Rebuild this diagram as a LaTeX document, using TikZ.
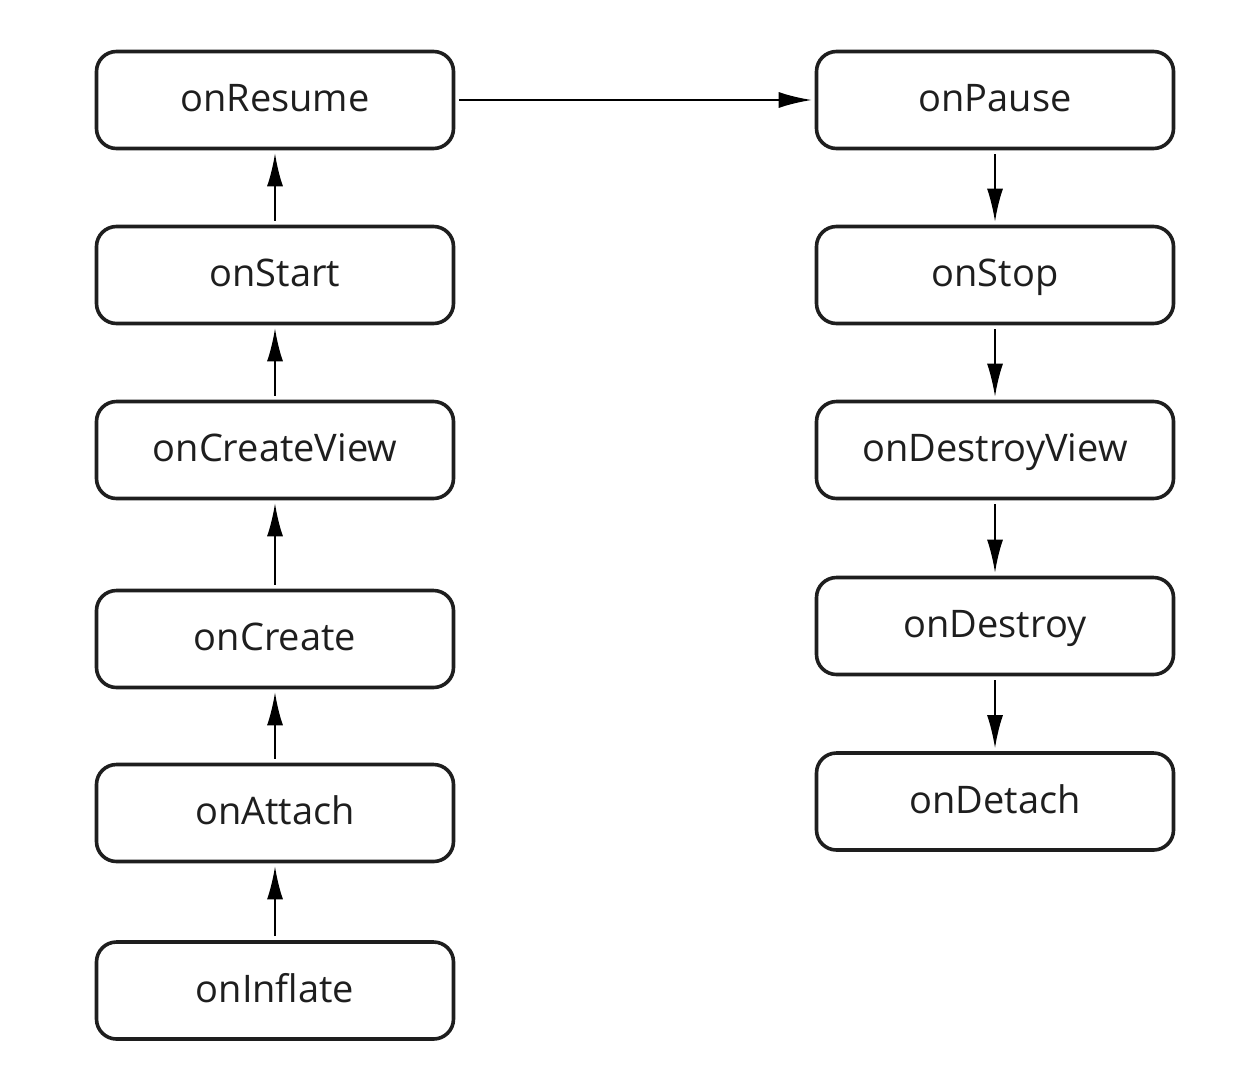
\documentclass[tikz,border=0pt]{standalone}
\usepackage{fontspec}
\setmainfont{Open Sans}
\usetikzlibrary{arrows.meta}
\definecolor{ink}{HTML}{1E1E1E}
\tikzset{
  lcbox/.style={draw=ink, line width=3.6pt, rounded corners=20pt, minimum width=357pt, minimum height=97pt, inner sep=0pt, text height=27pt, text depth=4pt, text=ink, font=\fontsize{38}{45}\selectfont},
  lcarrow/.style={line width=2pt, draw=black, -{Latex[length=33pt,width=16pt]}, shorten >=3pt, shorten <=4pt}
}
\begin{document}
\begin{tikzpicture}[x=1pt,y=-1pt]
\useasboundingbox (0,0) rectangle (1238,1082);
% left column
\node[lcbox] (resume) at (275,100) {onResume};
\node[lcbox] (start) at (275,275) {onStart};
\node[lcbox] (createview) at (275,450) {onCreateView};
\node[lcbox] (create) at (275,639) {onCreate};
\node[lcbox] (attach) at (275,813) {onAttach};
\node[lcbox] (inflate) at (275,990.5) {onInflate};
% right column
\node[lcbox] (pause) at (995,100) {onPause};
\node[lcbox] (stop) at (995,275) {onStop};
\node[lcbox] (destroyview) at (995,450) {onDestroyView};
\node[lcbox] (destroy) at (995,626) {onDestroy};
\node[lcbox] (detach) at (995,801.5) {onDetach};
% connectors
\draw[lcarrow] (inflate) -- (attach);
\draw[lcarrow] (attach) -- (create);
\draw[lcarrow] (create) -- (createview);
\draw[lcarrow] (createview) -- (start);
\draw[lcarrow] (start) -- (resume);
\draw[lcarrow] (resume) -- (pause);
\draw[lcarrow] (pause) -- (stop);
\draw[lcarrow] (stop) -- (destroyview);
\draw[lcarrow] (destroyview) -- (destroy);
\draw[lcarrow] (destroy) -- (detach);
\end{tikzpicture}
\end{document}
